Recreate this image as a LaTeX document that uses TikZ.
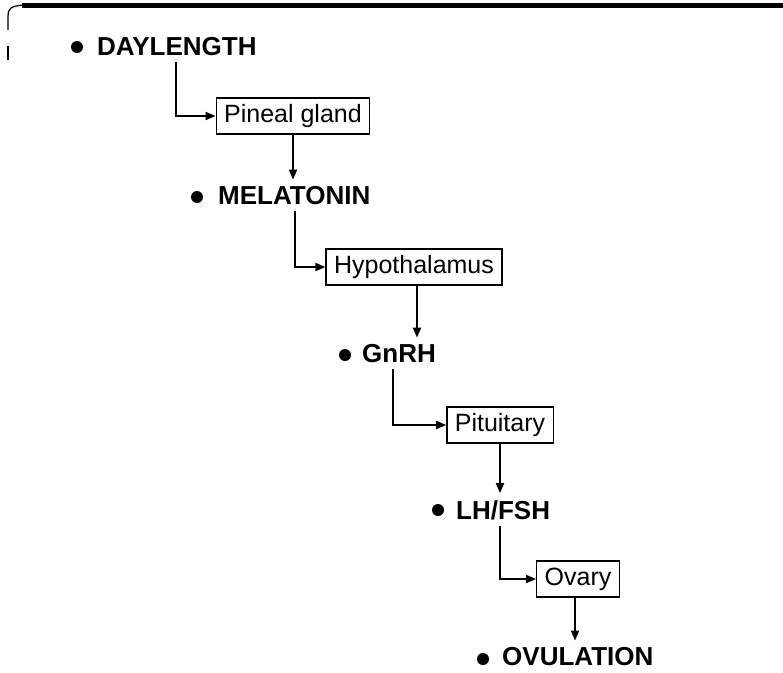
\documentclass[tikz,border=0pt]{standalone}
\usepackage{fontspec}
\setmainfont{Liberation Sans}
\usetikzlibrary{arrows.meta}
\begin{document}
\begin{tikzpicture}[x=1pt,y=-1pt,
  lab/.style={anchor=west, font=\fontsize{26}{30}\selectfont\bfseries, inner sep=0pt},
  box/.style={draw, line width=1.3pt, font=\fontsize{25}{29}\selectfont, inner xsep=8pt, inner ysep=0pt, minimum height=36pt, text height=18pt, text depth=5pt},
  dot/.style={circle, fill, inner sep=0pt, minimum size=12pt},
  arr/.style={line width=1.8pt, -{Triangle[length=10pt,width=8pt]}},
  down/.style={arr, shorten >=7pt}]
\useasboundingbox (0,0) rectangle (783,672);
% frame fragments
\draw[line width=5pt] (22,5) -- (783,5);
\draw[line width=1.3pt] (24,5) .. controls (10,6) and (8,9) .. (8,16) -- (8,30);
\draw[line width=1.3pt] (8,46) -- (8,60);
% labels
\node[dot] (b1) at (77,47) {};
\node[lab] (dl) at (97,47) {DAYLENGTH};
\node[box] (pin) at (293,116) {Pineal gland};
\node[dot] (b2) at (197,197) {};
\node[lab] (ml) at (218,196) {MELATONIN};
\node[box] (hyp) at (414,267) {Hypothalamus};
\node[dot] (b3) at (345,355) {};
\node[lab] (gn) at (362,354) {GnRH};
\node[box] (pit) at (500,425) {Pituitary};
\node[dot] (b4) at (438,510) {};
\node[lab] (lh) at (456,510) {LH/FSH};
\node[box] (ova) at (578,579) {Ovary};
\node[dot] (b5) at (483,659) {};
\node[lab] (ov) at (502,657) {OVULATION};
% connectors
\draw[arr] ([xshift=-1pt,yshift=-6pt]dl.south) |- (pin.west);
\draw[down] (pin.south) -- (pin.south |- ml.north);
\draw[arr] ([xshift=1pt,yshift=-6pt]ml.south) |- (hyp.west);
\draw[down] ([xshift=3pt]hyp.south) -- ([xshift=3pt]hyp.south |- gn.north);
\draw[arr] ([xshift=-6pt,yshift=-6pt]gn.south) |- (pit.west);
\draw[down] (pit.south) -- (pit.south |- lh.north);
\draw[arr] ([xshift=-3pt,yshift=-6pt]lh.south) |- (ova.west);
\draw[down] ([xshift=-3pt]ova.south) -- ([xshift=-3pt]ova.south |- ov.north);
\end{tikzpicture}
\end{document}
